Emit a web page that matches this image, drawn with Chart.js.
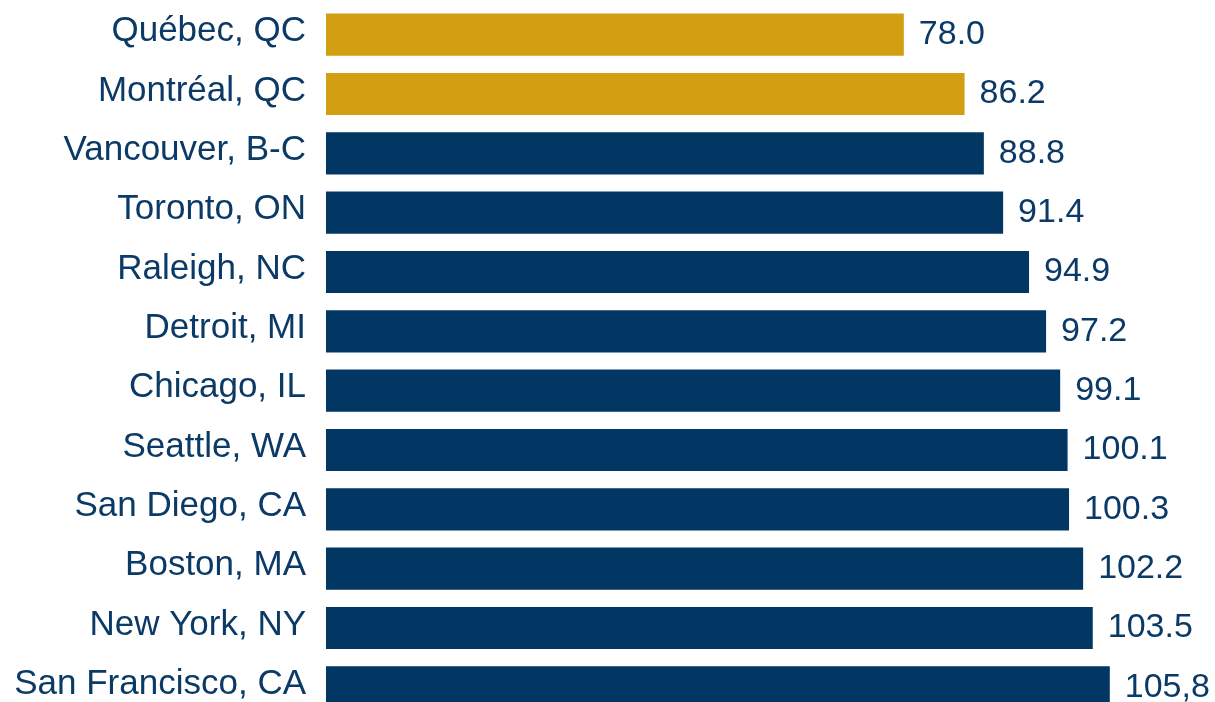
<!DOCTYPE html>
<html lang="en">
<head>
  <meta charset="UTF-8">
  <title>Cost index by city</title>
  <script src="https://cdn.jsdelivr.net/npm/chart.js"></script>
  <style>
    body {
      margin: 0;
      padding: 0;
      background: #ffffff;
      overflow: hidden;
    }
    #wrap {
      width: 1215px;
      height: 720px;
    }
  </style>
</head>
<body>
<div id="wrap">
  <canvas id="chart" width="1215" height="720"></canvas>
</div>

<script>
  // data
  const cities = [
    "Québec, QC", "Montréal, QC", "Vancouver, B-C", "Toronto, ON",
    "Raleigh, NC", "Detroit, MI", "Chicago, IL", "Seattle, WA",
    "San Diego, CA", "Boston, MA", "New York, NY", "San Francisco, CA"
  ];
  const indexValues = [78.0, 86.2, 88.8, 91.4, 94.9, 97.2, 99.1, 100.1, 100.3, 102.2, 103.5, 105.8];
  const valueLabels = ["78.0", "86.2", "88.8", "91.4", "94.9", "97.2", "99.1", "100.1", "100.3", "102.2", "103.5", "105,8"];
  const quebecCities = ["Québec, QC", "Montréal, QC"];

  const gold = "#D29F13";
  const navy = "#023764";
  const textColor = "#0B3A66";
  const fontFamily = "'Liberation Sans', Arial, sans-serif";

  const barColors = cities.map(c => quebecCities.includes(c) ? gold : navy);

  // value labels to the right of each bar
  const valueLabelPlugin = {
    id: "valueLabels",
    afterDatasetsDraw(chart) {
      const ctx = chart.ctx;
      const meta = chart.getDatasetMeta(0);
      ctx.save();
      ctx.font = "34px " + fontFamily;
      ctx.fillStyle = textColor;
      ctx.textAlign = "left";
      ctx.textBaseline = "middle";
      meta.data.forEach((bar, i) => {
        ctx.fillText(valueLabels[i], bar.x + 15, bar.y);
      });
      ctx.restore();
    }
  };

  new Chart(document.getElementById("chart"), {
    type: "bar",
    data: {
      labels: cities,
      datasets: [{
        data: indexValues,
        backgroundColor: barColors,
        borderWidth: 0,
        barPercentage: 0.71,
        categoryPercentage: 1.0
      }]
    },
    options: {
      indexAxis: "y",
      responsive: false,
      animation: false,
      layout: {
        padding: { top: 5, bottom: 3, left: 0, right: 0 }
      },
      plugins: {
        legend: { display: false },
        tooltip: { enabled: false }
      },
      scales: {
        x: {
          display: false,
          min: 0,
          max: 120
        },
        y: {
          grid: { display: false, drawTicks: false },
          border: { display: false },
          ticks: {
            color: textColor,
            font: { family: fontFamily, size: 35 },
            padding: 20,
            labelOffset: -3
          },
          afterFit(scale) {
            scale.width = 326;
            scale.paddingTop = 0;
            scale.paddingBottom = 0;
          }
        }
      }
    },
    plugins: [valueLabelPlugin]
  });
</script>
</body>
</html>
